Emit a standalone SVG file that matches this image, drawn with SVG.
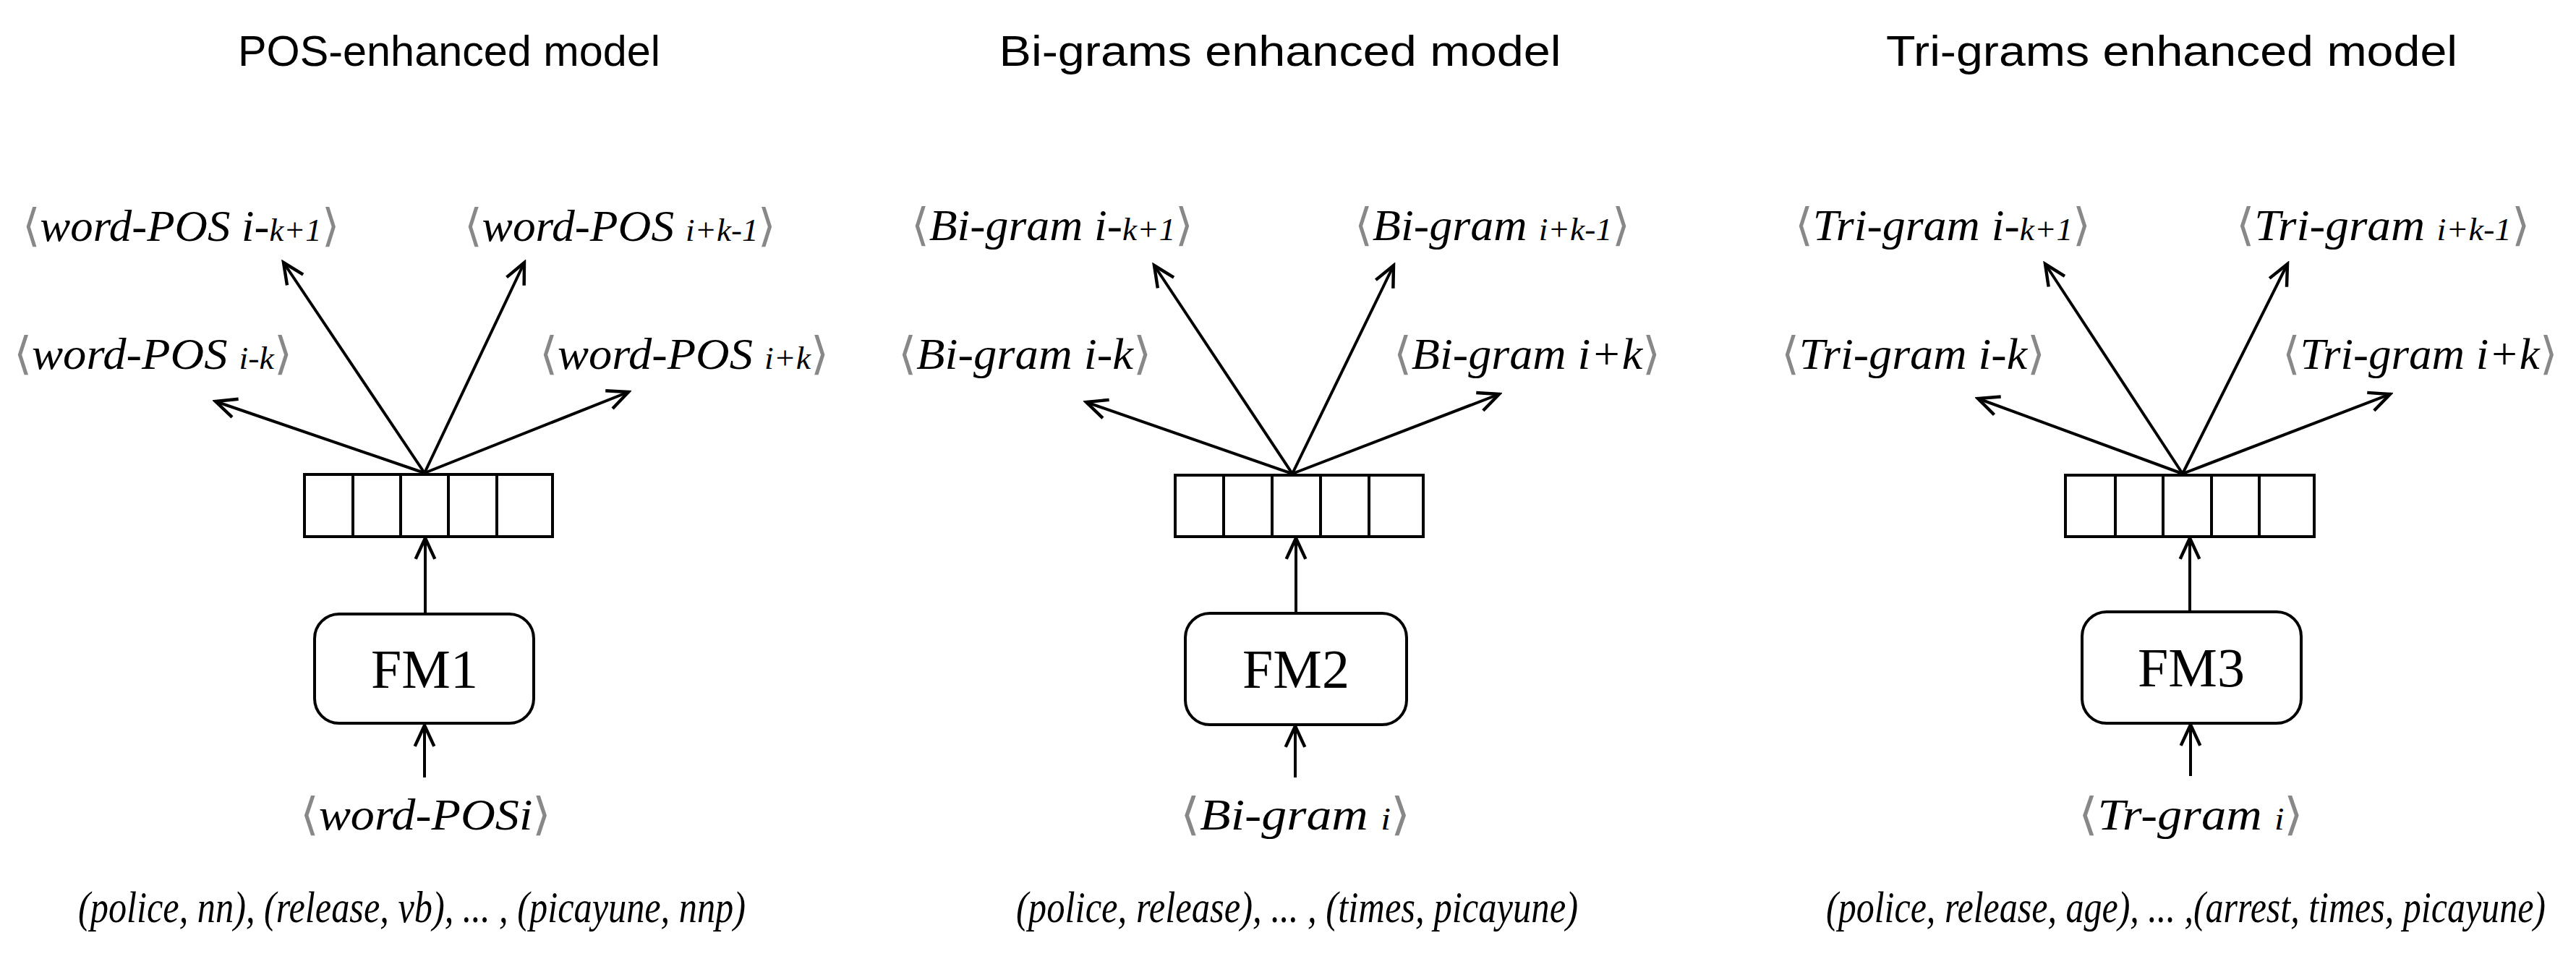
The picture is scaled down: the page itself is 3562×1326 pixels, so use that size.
<svg xmlns="http://www.w3.org/2000/svg" width="3562" height="1326" viewBox="0 0 3562 1326">
<style>
.title{font-family:"Liberation Sans",Arial,sans-serif;font-size:59px;fill:#000}
.lbl{font-family:"Liberation Serif","Times New Roman",serif;font-style:italic;font-size:62px;fill:#000}
.br{font-style:normal;fill:#888;font-family:"Liberation Serif",serif}
.sm{font-size:44px}
.fm{font-family:"Liberation Serif","Times New Roman",serif;font-size:76px;fill:#000}
.vec{fill:#fff;stroke:#000;stroke-width:4}
.cell{stroke:#000;stroke-width:4}
.node{fill:#fff;stroke:#000;stroke-width:4}
.edge{stroke:#000;stroke-width:4;fill:none;marker-end:url(#ah)}
</style>
<defs>
<marker id="ah" markerUnits="userSpaceOnUse" markerWidth="40" markerHeight="40" viewBox="-32 -16 36 32" refX="0" refY="0" orient="auto">
<path d="M-26,-12 L0,0 L-26,12" fill="none" stroke="#000" stroke-width="4"/>
</marker>
</defs>
<rect width="3562" height="1326" fill="#fff"/>
<text class="title" x="621" y="91" text-anchor="middle" textLength="584" lengthAdjust="spacingAndGlyphs">POS-enhanced model</text>
<text class="title" x="1770" y="91" text-anchor="middle" textLength="777" lengthAdjust="spacingAndGlyphs">Bi-grams enhanced model</text>
<text class="title" x="3003" y="91" text-anchor="middle" textLength="790" lengthAdjust="spacingAndGlyphs">Tri-grams enhanced model</text>

<g id="connectors">
<line class="edge" x1="587" y1="654" x2="392" y2="363"/>
<line class="edge" x1="587" y1="654" x2="725" y2="363"/>
<line class="edge" x1="587" y1="654" x2="298" y2="555"/>
<line class="edge" x1="587" y1="654" x2="869" y2="542"/>
<line class="edge" x1="588" y1="849" x2="588" y2="744"/>
<line class="edge" x1="587" y1="1075" x2="587" y2="1003"/>

<line class="edge" x1="1787" y1="655" x2="1596" y2="367"/>
<line class="edge" x1="1787" y1="655" x2="1927" y2="367"/>
<line class="edge" x1="1787" y1="655" x2="1502" y2="556"/>
<line class="edge" x1="1787" y1="655" x2="2073" y2="545"/>
<line class="edge" x1="1792" y1="848" x2="1792" y2="744"/>
<line class="edge" x1="1791" y1="1075" x2="1791" y2="1004"/>

<line class="edge" x1="3018" y1="655" x2="2828" y2="365"/>
<line class="edge" x1="3018" y1="655" x2="3163" y2="365"/>
<line class="edge" x1="3018" y1="655" x2="2735" y2="551"/>
<line class="edge" x1="3018" y1="655" x2="3305" y2="545"/>
<line class="edge" x1="3028" y1="846" x2="3028" y2="744"/>
<line class="edge" x1="3029" y1="1073" x2="3029" y2="1002"/>
</g>

<g id="vec1">
<rect class="vec" x="421" y="656" width="343" height="86"/>
<line class="cell" x1="488" y1="656" x2="488" y2="742"/><line class="cell" x1="554" y1="656" x2="554" y2="742"/><line class="cell" x1="620" y1="656" x2="620" y2="742"/><line class="cell" x1="687" y1="656" x2="687" y2="742"/>
</g>
<g id="vec2">
<rect class="vec" x="1625" y="657" width="343" height="85"/>
<line class="cell" x1="1692" y1="657" x2="1692" y2="742"/><line class="cell" x1="1759" y1="657" x2="1759" y2="742"/><line class="cell" x1="1826" y1="657" x2="1826" y2="742"/><line class="cell" x1="1893" y1="657" x2="1893" y2="742"/>
</g>
<g id="vec3">
<rect class="vec" x="2856" y="657" width="344" height="85"/>
<line class="cell" x1="2925" y1="657" x2="2925" y2="742"/><line class="cell" x1="2991" y1="657" x2="2991" y2="742"/><line class="cell" x1="3058" y1="657" x2="3058" y2="742"/><line class="cell" x1="3124" y1="657" x2="3124" y2="742"/>
</g>

<g id="fm1"><rect class="node" x="435" y="849" width="303" height="151" rx="34"/><text class="fm" x="587" y="951" text-anchor="middle">FM1</text></g>
<g id="fm2"><rect class="node" x="1639" y="848" width="306" height="154" rx="34"/><text class="fm" x="1792" y="951" text-anchor="middle">FM2</text></g>
<g id="fm3"><rect class="node" x="2879" y="846" width="303" height="154" rx="34"/><text class="fm" x="3030" y="949" text-anchor="middle">FM3</text></g>

<g id="labels1">
<text class="lbl" x="31" y="333" textLength="438" lengthAdjust="spacingAndGlyphs"><tspan class="br">⟨</tspan>word-POS i-<tspan class="sm">k+1</tspan><tspan class="br">⟩</tspan></text>
<text class="lbl" x="642" y="333" textLength="431" lengthAdjust="spacingAndGlyphs"><tspan class="br">⟨</tspan>word-POS <tspan class="sm">i+k-1</tspan><tspan class="br">⟩</tspan></text>
<text class="lbl" x="19" y="510" textLength="385" lengthAdjust="spacingAndGlyphs"><tspan class="br">⟨</tspan>word-POS <tspan class="sm">i-k</tspan><tspan class="br">⟩</tspan></text>
<text class="lbl" x="746" y="510" textLength="400" lengthAdjust="spacingAndGlyphs"><tspan class="br">⟨</tspan>word-POS <tspan class="sm">i+k</tspan><tspan class="br">⟩</tspan></text>
<text class="lbl" x="415" y="1147" textLength="347" lengthAdjust="spacingAndGlyphs"><tspan class="br">⟨</tspan>word-POSi<tspan class="br">⟩</tspan></text>
<text class="lbl" x="108" y="1275" textLength="923" lengthAdjust="spacingAndGlyphs">(police, nn), (release, vb), ... , (picayune, nnp)</text>
</g>
<g id="labels2">
<text class="lbl" x="1260" y="332" textLength="390" lengthAdjust="spacingAndGlyphs"><tspan class="br">⟨</tspan>Bi-gram i-<tspan class="sm">k+1</tspan><tspan class="br">⟩</tspan></text>
<text class="lbl" x="1873" y="332" textLength="381" lengthAdjust="spacingAndGlyphs"><tspan class="br">⟨</tspan>Bi-gram <tspan class="sm">i+k-1</tspan><tspan class="br">⟩</tspan></text>
<text class="lbl" x="1242" y="510" textLength="350" lengthAdjust="spacingAndGlyphs"><tspan class="br">⟨</tspan>Bi-gram i-k<tspan class="br">⟩</tspan></text>
<text class="lbl" x="1927" y="510" textLength="369" lengthAdjust="spacingAndGlyphs"><tspan class="br">⟨</tspan>Bi-gram i+k<tspan class="br">⟩</tspan></text>
<text class="lbl" x="1632" y="1147" textLength="318" lengthAdjust="spacingAndGlyphs"><tspan class="br">⟨</tspan>Bi-gram <tspan class="sm">i</tspan><tspan class="br">⟩</tspan></text>
<text class="lbl" x="1405" y="1275" textLength="777" lengthAdjust="spacingAndGlyphs">(police, release), ... , (times, picayune)</text>
</g>
<g id="labels3">
<text class="lbl" x="2482" y="332" textLength="409" lengthAdjust="spacingAndGlyphs"><tspan class="br">⟨</tspan>Tri-gram i-<tspan class="sm">k+1</tspan><tspan class="br">⟩</tspan></text>
<text class="lbl" x="3092" y="332" textLength="406" lengthAdjust="spacingAndGlyphs"><tspan class="br">⟨</tspan>Tri-gram <tspan class="sm">i+k-1</tspan><tspan class="br">⟩</tspan></text>
<text class="lbl" x="2463" y="510" textLength="365" lengthAdjust="spacingAndGlyphs"><tspan class="br">⟨</tspan>Tri-gram i-k<tspan class="br">⟩</tspan></text>
<text class="lbl" x="3156" y="510" textLength="380" lengthAdjust="spacingAndGlyphs"><tspan class="br">⟨</tspan>Tri-gram i+k<tspan class="br">⟩</tspan></text>
<text class="lbl" x="2874" y="1147" textLength="311" lengthAdjust="spacingAndGlyphs"><tspan class="br">⟨</tspan>Tr-gram <tspan class="sm">i</tspan><tspan class="br">⟩</tspan></text>
<text class="lbl" x="2525" y="1275" textLength="995" lengthAdjust="spacingAndGlyphs">(police, release, age), ... ,(arrest, times, picayune)</text>
</g>
</svg>
